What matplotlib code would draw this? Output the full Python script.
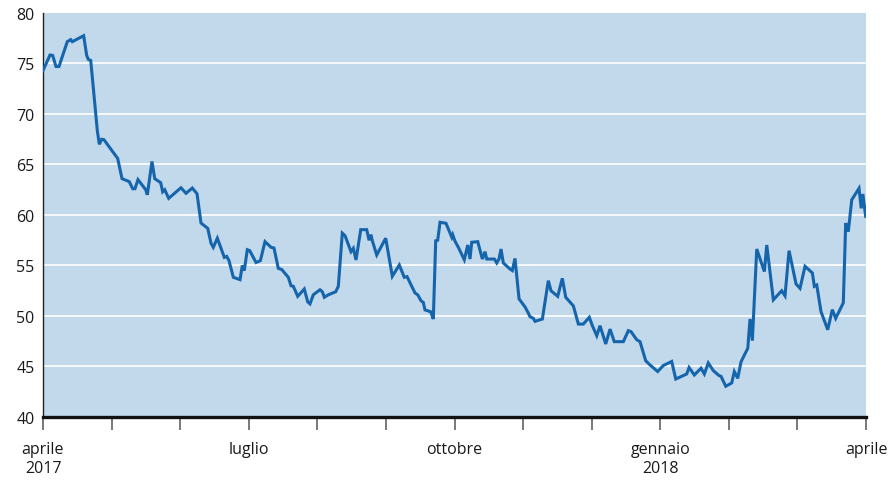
import numpy as np
import matplotlib
matplotlib.use("Agg")
import matplotlib.pyplot as plt

# months elapsed since start of April 2017
months = [0.0, 0.102, 0.141, 0.190, 0.233, 0.354, 0.404, 0.427, 0.593, 0.637,
          0.661, 0.696, 0.792, 0.821, 0.856, 0.889, 1.089, 1.152, 1.258, 1.308,
          1.341, 1.385, 1.498, 1.521, 1.589, 1.629, 1.716, 1.745, 1.775, 1.833,
          2.012, 2.085, 2.177, 2.246, 2.304, 2.402, 2.450, 2.483, 2.542, 2.644,
          2.679, 2.712, 2.775, 2.873, 2.906, 2.935, 2.979, 3.014, 3.106, 3.169,
          3.237, 3.325, 3.368, 3.431, 3.481, 3.577, 3.616, 3.650, 3.714, 3.810,
          3.860, 3.893, 3.941, 4.039, 4.073, 4.102, 4.160, 4.268, 4.306, 4.364,
          4.404, 4.491, 4.525, 4.564, 4.633, 4.720, 4.754, 4.783, 4.802, 4.866,
          4.997, 5.093, 5.195, 5.268, 5.308, 5.424, 5.464, 5.512, 5.545, 5.570,
          5.653, 5.691, 5.726, 5.755, 5.789, 5.876, 5.960, 5.974, 6.008, 6.056,
          6.143, 6.193, 6.226, 6.251, 6.339, 6.406, 6.445, 6.470, 6.581, 6.616,
          6.649, 6.678, 6.712, 6.810, 6.843, 6.882, 6.941, 7.028, 7.068, 7.101,
          7.149, 7.174, 7.281, 7.368, 7.407, 7.505, 7.572, 7.622, 7.733, 7.806,
          7.878, 7.966, 8.010, 8.074, 8.122, 8.205, 8.268, 8.330, 8.462, 8.535,
          8.574, 8.657, 8.705, 8.788, 8.851, 8.963, 9.045, 9.167, 9.226, 9.386,
          9.420, 9.497, 9.595, 9.643, 9.700, 9.773, 9.857, 9.886, 9.955, 10.042,
          10.080, 10.130, 10.178, 10.276, 10.309, 10.343, 10.407, 10.518, 10.553, 10.649,
          10.771, 10.819, 10.878, 10.980, 11.038, 11.111, 11.218, 11.247, 11.282, 11.344,
          11.442, 11.509, 11.558, 11.669, 11.704, 11.742, 11.792, 11.898, 11.930, 11.954,
          11.995]

values = [74.3, 75.84, 75.8, 74.7, 74.7, 77.16, 77.36, 77.16, 77.75, 75.8,
          75.4, 75.3, 68.35, 67.0, 67.5, 67.45, 65.6, 63.6, 63.3, 62.6,
          62.6, 63.5, 62.5, 62.0, 65.3, 63.6, 63.2, 62.3, 62.5, 61.65,
          62.7, 62.15, 62.67, 62.1, 59.2, 58.68, 57.2, 56.8, 57.7, 55.8,
          55.9, 55.48, 53.83, 53.6, 55.0, 54.5, 56.56, 56.47, 55.3, 55.48,
          57.36, 56.8, 56.73, 54.72, 54.6, 53.83, 53.0, 52.94, 51.95, 52.67,
          51.4, 51.2, 52.1, 52.6, 52.4, 51.85, 52.1, 52.4, 52.94, 58.2,
          57.95, 56.37, 56.7, 55.55, 58.55, 58.55, 57.5, 58.05, 57.45, 56.04,
          57.7, 53.93, 55.05, 53.83, 53.9, 52.28, 52.1, 51.5, 51.35, 50.6,
          50.42, 49.7, 57.45, 57.5, 59.28, 59.18, 57.8, 58.05, 57.4, 56.8,
          55.57, 57.03, 55.64, 57.3, 57.36, 55.64, 56.37, 55.64, 55.64, 55.25,
          55.64, 56.63, 55.25, 54.65, 54.5, 55.7, 51.7, 50.9, 50.4, 49.93,
          49.77, 49.47, 49.7, 53.5, 52.5, 51.95, 53.73, 51.85, 51.0, 49.2,
          49.2, 49.87, 49.04, 48.05, 49.04, 47.23, 48.7, 47.46, 47.46, 48.55,
          48.45, 47.65, 47.46, 45.57, 45.15, 44.5, 45.1, 45.5, 43.76, 44.26,
          44.9, 44.16, 44.83, 44.26, 45.35, 44.6, 44.1, 44.03, 43.04, 43.37,
          44.5, 43.83, 45.47, 46.8, 49.7, 47.56, 56.63, 54.4, 57.03, 51.6,
          52.5, 52.0, 56.47, 53.17, 52.74, 54.92, 54.26, 52.94, 53.07, 50.43,
          48.64, 50.63, 49.77, 51.3, 59.2, 58.35, 61.5, 62.64, 60.66, 62.08,
          59.87]

label_pos = [0, 3, 6, 9, 12]
label_txt = ["aprile\n2017", "luglio", "ottobre", "gennaio\n2018", "aprile"]
y_ticks = [40, 45, 50, 55, 60, 65, 70, 75, 80]

BG = "#c2d8eb"
LINE = "#1565ad"

plt.rcParams['font.family'] = ['Open Sans', 'DejaVu Sans']

fig = plt.figure(figsize=(8.92, 4.81), dpi=100)
ax = fig.add_axes([43 / 892, 1 - 418 / 481, (866 - 43) / 892, (418 - 14) / 481])
ax.set_facecolor(BG)

for yv in y_ticks[1:-1]:
    ax.axhline(yv, color="white", lw=1.2, zorder=1)

ax.plot(months, values, color=LINE, lw=2.2, zorder=3, solid_joinstyle="miter")

ax.set_xlim(0, 12)
ax.set_ylim(40, 80)
ax.set_yticks(y_ticks)
ax.set_yticklabels([str(v) for v in y_ticks], fontsize=11.5, color="#1a1a1a")
ax.tick_params(axis="y", length=0, pad=6)

ax.set_xticks(range(13))
ax.set_xticklabels([label_txt[label_pos.index(i)] if i in label_pos else "" for i in range(13)],
                   fontsize=11.5, color="#1a1a1a", linespacing=1.25)
ax.tick_params(axis="x", length=9, width=1.1, color="#555555", pad=8, direction="out")

for s in ["top", "right"]:
    ax.spines[s].set_visible(False)
ax.spines["left"].set_color("#222222")
ax.spines["left"].set_linewidth(1.0)
ax.spines["bottom"].set_color("#111111")
ax.spines["bottom"].set_linewidth(2.4)
ax.spines["bottom"].set_zorder(4)

fig.savefig("out.png", dpi=100)
